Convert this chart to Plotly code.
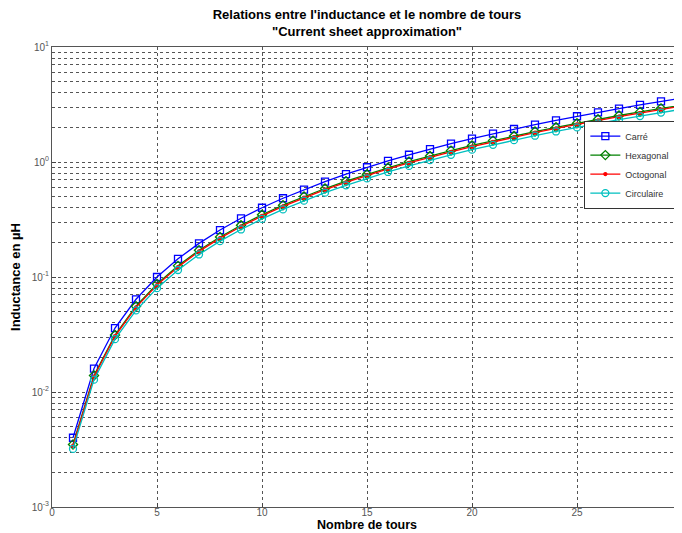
import plotly.graph_objects as go

tours = list(range(1, 31))
carre = [0.0040, 0.0160, 0.0360, 0.0640, 0.100, 0.144, 0.196, 0.256, 0.324, 0.400,
         0.484, 0.576, 0.676, 0.784, 0.900, 1.024, 1.156, 1.296, 1.444, 1.600,
         1.764, 1.936, 2.116, 2.304, 2.500, 2.704, 2.916, 3.136, 3.364, 3.600]
hexagonal = [0.0035, 0.0139, 0.0313, 0.0557, 0.087, 0.125, 0.171, 0.223, 0.282, 0.348,
             0.421, 0.501, 0.588, 0.682, 0.783, 0.891, 1.006, 1.128, 1.256, 1.392,
             1.535, 1.684, 1.841, 2.004, 2.175, 2.352, 2.537, 2.728, 2.927, 3.132]
octogonal = [0.0034, 0.0136, 0.0306, 0.0544, 0.085, 0.122, 0.167, 0.218, 0.275, 0.340,
             0.411, 0.490, 0.575, 0.666, 0.765, 0.870, 0.983, 1.102, 1.227, 1.360,
             1.499, 1.646, 1.799, 1.958, 2.125, 2.298, 2.479, 2.666, 2.859, 3.060]
circulaire = [0.0032, 0.0128, 0.0288, 0.0512, 0.080, 0.115, 0.157, 0.205, 0.259, 0.320,
              0.387, 0.461, 0.541, 0.627, 0.720, 0.819, 0.925, 1.037, 1.155, 1.280,
              1.411, 1.549, 1.693, 1.843, 2.000, 2.163, 2.333, 2.509, 2.691, 2.880]

x_ticks = [0, 5, 10, 15, 20, 25, 30]
y_tickvals = [0.001, 0.01, 0.1, 1, 10]
y_ticktext = ["10<sup>-3</sup>", "10<sup>-2</sup>", "10<sup>-1</sup>", "10<sup>0</sup>", "10<sup>1</sup>"]

series = [
    ("Carré", carre, "#0000ff", "square-open", 7),
    ("Hexagonal", hexagonal, "#008000", "diamond-open", 7),
    ("Octogonal", octogonal, "#ff0000", "circle", 3),
    ("Circulaire", circulaire, "#00bfbf", "circle-open", 7),
]

fig = go.Figure()
for name, vals, col, sym, sz in series:
    fig.add_trace(go.Scatter(
        x=tours, y=vals, name=name, mode="lines+markers",
        line=dict(color=col, width=1.3),
        marker=dict(symbol=sym, size=sz, color=col, line=dict(color=col, width=1.3)),
    ))

font = "Liberation Sans, Arial, sans-serif"
# The page body adds an 8px margin, so the figure is 674x525 and placed at (8, 8).
fig.update_layout(
    width=674, height=525,
    margin=dict(l=44, r=0, t=39, b=26, autoexpand=False),
    paper_bgcolor="white", plot_bgcolor="white",
    font=dict(family=font, size=10, color="#333333"),
    title=dict(
        text="<b>Relations entre l'inductance et le nombre de tours<br>\"Current sheet approximation\"</b>",
        x=0.5, xanchor="center", xref="paper", y=0.979, yanchor="top",
        font=dict(family=font, size=13, color="#000000"),
    ),
    showlegend=True,
    legend=dict(
        x=0.845, y=0.84, xanchor="left", yanchor="top",
        bgcolor="white", bordercolor="#333333", borderwidth=1,
        font=dict(family=font, size=9, color="#333333"),
        tracegroupgap=0, itemwidth=30,
    ),
    xaxis=dict(
        range=[0, 30], tickvals=x_ticks, ticks="inside", ticklen=4,
        automargin=False, ticklabelstandoff=-4,
        showline=True, linecolor="#555555", linewidth=1, mirror=True,
        showgrid=True, gridcolor="#555555", griddash="dot", gridwidth=1,
        zeroline=False,
        title=dict(text="<b>Nombre de tours</b>", font=dict(family=font, size=12.5, color="#000000"), standoff=2),
        tickfont=dict(size=10, color="#555555"),
    ),
    yaxis=dict(
        type="log", range=[-3, 1], tickvals=y_tickvals, ticktext=y_ticktext,
        ticks="inside", ticklen=4,
        automargin=False,
        showline=True, linecolor="#555555", linewidth=1, mirror=True,
        showgrid=True, gridcolor="#555555", griddash="dot", gridwidth=1,
        minor=dict(dtick="D1", showgrid=True, gridcolor="#555555", griddash="dot", ticks=""),
        zeroline=False,
        title=dict(text="<b>Inductance en µH</b>", font=dict(family=font, size=13, color="#000000"), standoff=12),
        tickfont=dict(size=10, color="#555555"),
    ),
)

fig.write_html("out.html")
